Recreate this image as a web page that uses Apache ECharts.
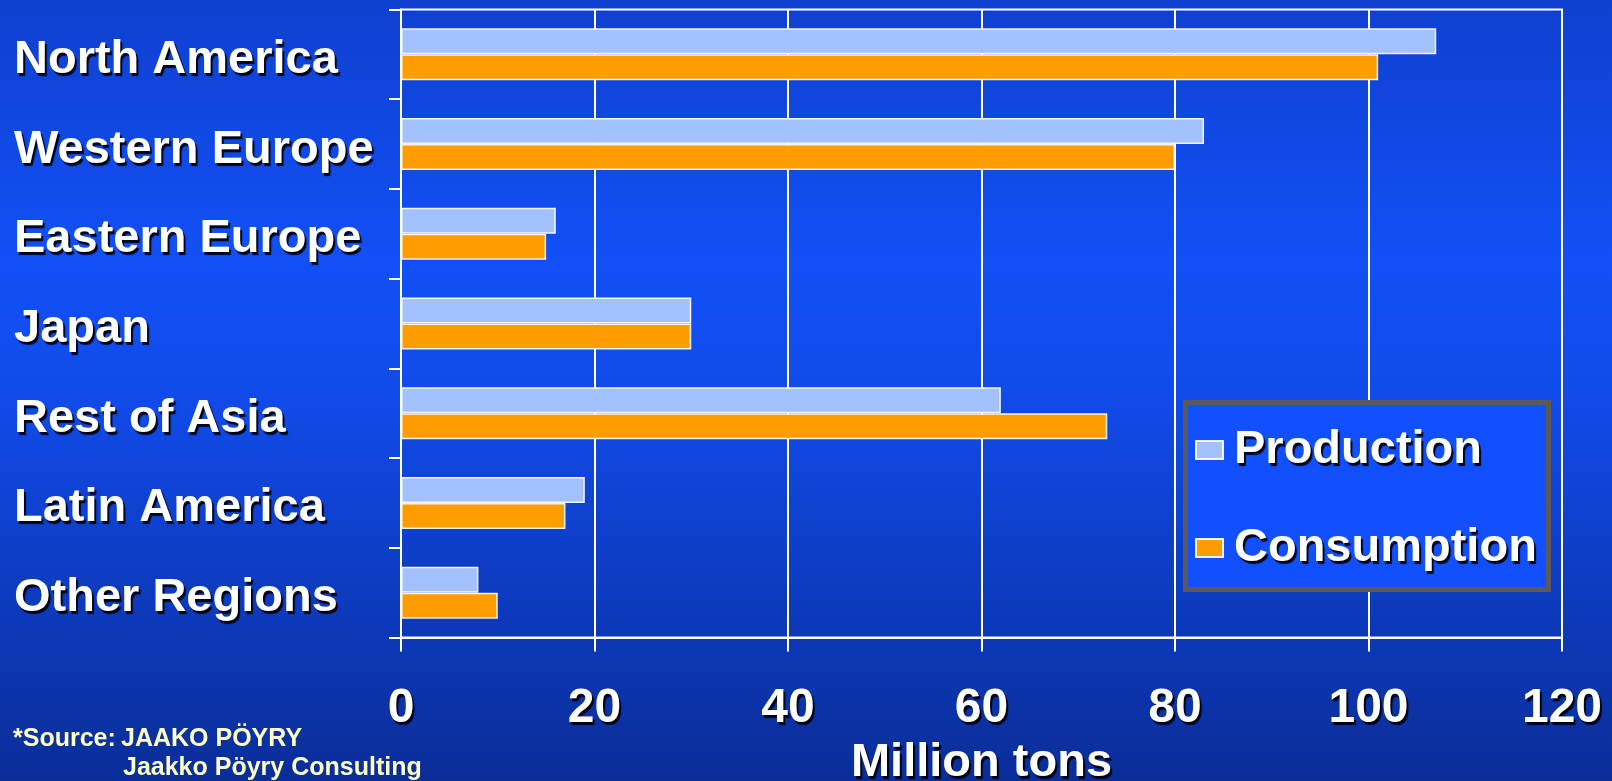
<!DOCTYPE html>
<html>
<head>
<meta charset="utf-8">
<title>Production and Consumption by Region</title>
<script src="https://cdn.jsdelivr.net/npm/echarts@6/dist/echarts.min.js"></script>
<style>
  html, body { margin: 0; padding: 0; width: 100%; height: 100%; overflow: hidden; }
  #chart { width: 1612px; height: 781px; }
</style>
</head>
<body>
<div id="chart"></div>
<script>
// Regions, top to bottom
const regions = ['North America', 'Western Europe', 'Eastern Europe', 'Japan', 'Rest of Asia', 'Latin America', 'Other Regions'];
// Million tons
const production = [107, 83, 16, 30, 62, 19, 8];
const consumption = [101, 80, 15, 30, 73, 17, 10];
const xTicks = [0, 20, 40, 60, 80, 100, 120];
const seriesNames = ['Production', 'Consumption'];
const axisTitle = 'Million tons';
const sourceLines = ['*Source:', 'JAAKO PÖYRY', 'Jaakko Pöyry Consulting'];

const FONT = "'Liberation Sans', Arial, Helvetica, sans-serif";
const shadow = {
  textShadowColor: 'rgba(0,0,15,0.95)',
  textShadowOffsetX: 2,
  textShadowOffsetY: 3,
  textShadowBlur: 1
};
const bigText = Object.assign({
  color: '#ffffff',
  fontFamily: FONT,
  fontWeight: 'bold',
  fontSize: 47
}, shadow);

const chart = echarts.init(document.getElementById('chart'), null, { renderer: 'canvas' });

const barBorder = { borderColor: 'rgba(255,255,255,0.92)', borderWidth: 1.5 };

chart.setOption({
  animation: false,
  backgroundColor: {
    type: 'linear', x: 0, y: 0, x2: 0, y2: 1,
    colorStops: [
      { offset: 0, color: '#0f40cf' },
      { offset: 0.33, color: '#1250f6' },
      { offset: 0.5, color: '#114bea' },
      { offset: 1, color: '#0a2d98' }
    ]
  },
  grid: {
    left: 401, right: 50, top: 9.5, bottom: 143.5,
    outerBoundsMode: 'none',
    containLabel: false,
    show: true,
    borderColor: '#ffffff',
    borderWidth: 2,
    backgroundColor: 'transparent'
  },
  legend: {
    orient: 'vertical',
    left: 1195,
    top: 422,
    padding: 0,
    itemWidth: 27,
    itemHeight: 18,
    itemGap: 42,
    icon: 'rect',
    data: seriesNames,
    textStyle: Object.assign({}, bigText, { lineHeight: 56, padding: [0, 0, 0, 6] }),
    z: 6
  },
  xAxis: {
    type: 'value',
    min: 0,
    max: 120,
    interval: 20,
    name: axisTitle,
    nameLocation: 'middle',
    nameGap: 102,
    nameTextStyle: bigText,
    axisLine: { show: true, lineStyle: { color: '#ffffff', width: 2 } },
    axisTick: { show: true, length: 14, lineStyle: { color: '#ffffff', width: 2 } },
    axisLabel: Object.assign({
      margin: 47,
      formatter: function (v) { return xTicks.indexOf(v) >= 0 ? String(v) : ''; }
    }, bigText, { fontSize: 48 }),
    splitLine: { show: true, lineStyle: { color: '#ffffff', width: 2 } }
  },
  yAxis: {
    type: 'category',
    data: regions,
    inverse: true,
    axisLine: { show: true, lineStyle: { color: '#ffffff', width: 2 } },
    axisTick: { show: true, length: 12, lineStyle: { color: '#ffffff', width: 2 } },
    axisLabel: Object.assign({ margin: 387, align: 'left', verticalAlign: 'top', lineHeight: 11 }, bigText),
    splitLine: { show: false }
  },
  series: [
    {
      name: seriesNames[0],
      type: 'bar',
      data: production,
      barWidth: 26,
      barGap: '0%',
      itemStyle: Object.assign({ color: '#a3c1ff' }, barBorder),
      z: 3
    },
    {
      name: seriesNames[1],
      type: 'bar',
      data: consumption,
      barWidth: 26,
      barGap: '0%',
      itemStyle: Object.assign({ color: '#ff9c00' }, barBorder),
      z: 3
    }
  ],
  graphic: [
    {
      type: 'rect',
      z: 5,
      shape: { x: 1185.5, y: 402.5, width: 363, height: 187 },
      style: { fill: '#1250ff', stroke: '#5a5a5a', lineWidth: 5 }
    },
    {
      type: 'text', left: 13, top: 727, z: 5,
      style: { text: sourceLines[0], fill: '#ffffc8', font: "bold 25px " + FONT }
    },
    {
      type: 'text', left: 121, top: 727, z: 5,
      style: { text: sourceLines[1], fill: '#ffffc8', font: "bold 25px " + FONT }
    },
    {
      type: 'text', left: 123, top: 756, z: 5,
      style: { text: sourceLines[2], fill: '#ffffc8', font: "bold 25px " + FONT }
    }
  ]
});
</script>
</body>
</html>
